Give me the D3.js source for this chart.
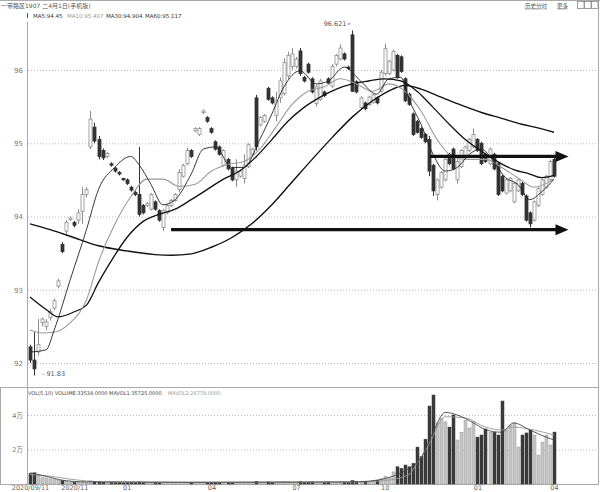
<!DOCTYPE html>
<html><head><meta charset="utf-8">
<script src="https://cdn.jsdelivr.net/npm/d3@7"></script>
<style>body{margin:0;background:#fff}svg{display:block}text{font-family:"DejaVu Sans","Noto Sans CJK SC",sans-serif}</style>
</head><body><svg id="c" width="600" height="492"></svg>
<script>
// ---------- data ----------
const priceTicks = [92, 93, 94, 95, 96];
const volTicks = [2, 4];
const xTickIdx = [0, 11, 24, 45, 66, 88, 111, 130];
const xLabels = ["2020/09/11", "2020/11", "01", "04", "07", "10", "01", "04"];

const opens = [92.22,92.04,92.15,92.55,92.50,92.62,92.75,93.05,93.62,93.80,
93.96,93.92,93.95,94.07,94.30,94.95,95.22,95.05,94.90,94.82,
94.72,94.66,94.60,94.52,94.50,94.40,94.33,94.30,94.15,94.15,
94.10,94.20,94.08,93.85,94.05,94.15,94.22,94.37,94.55,94.72,
94.90,95.17,95.12,95.42,95.35,95.20,95.02,94.95,94.70,94.78,
94.66,94.50,94.55,94.52,94.68,94.85,95.62,95.25,95.30,95.75,
95.62,95.38,95.62,95.68,95.92,96.05,96.05,96.26,95.90,96.08,
95.88,95.54,95.60,95.70,95.88,95.78,96.08,96.15,96.22,96.04,
96.48,95.84,95.49,95.55,95.53,95.56,95.62,95.71,95.95,95.95,
96.00,96.20,96.18,95.88,95.67,95.40,95.30,95.20,95.12,95.05,
94.70,94.30,94.40,94.50,94.85,94.92,94.50,94.68,94.80,94.90,
94.95,95.05,95.00,94.85,94.72,94.85,94.72,94.55,94.32,94.35,
94.20,94.35,94.45,94.28,94.05,93.95,94.15,94.30,94.40,94.50,94.78];
const closes = [92.04,91.92,92.25,92.60,92.56,92.70,92.85,93.12,93.52,93.92,
93.98,93.88,94.05,94.30,94.37,95.33,95.03,94.82,94.80,94.86,
94.70,94.62,94.58,94.50,94.45,94.36,94.30,94.03,94.05,94.18,
94.30,94.10,93.95,94.08,94.15,94.22,94.30,94.60,94.70,94.90,
94.82,95.20,95.20,95.44,95.30,95.15,94.92,94.85,94.90,94.65,
94.50,94.62,94.62,94.70,94.98,94.92,94.95,95.35,95.38,95.60,
95.55,95.58,95.85,96.10,96.20,96.22,96.15,95.95,95.85,95.97,
95.70,95.77,95.85,95.65,95.82,96.05,96.20,96.30,96.15,96.02,
95.71,95.70,95.62,95.47,95.63,95.66,95.55,95.97,96.29,96.12,
96.25,95.90,95.98,95.58,95.53,95.12,95.15,95.08,95.02,94.62,
94.35,94.50,94.60,94.78,94.72,94.65,94.75,94.90,94.95,95.05,
95.12,94.90,94.72,94.75,94.92,94.65,94.30,94.35,94.50,94.52,
94.45,94.50,94.30,93.95,93.90,94.20,94.38,94.50,94.55,94.75,94.55];
const highs = [92.25,92.42,92.60,92.62,92.60,92.74,92.88,93.15,93.65,93.95,
94.00,93.94,94.10,94.40,94.40,95.44,95.28,95.10,94.93,94.88,
94.74,94.68,94.62,94.53,94.52,94.42,94.35,94.95,94.17,94.20,
94.32,94.22,94.10,94.10,94.17,94.24,94.32,94.65,94.72,94.94,
94.92,95.22,95.22,95.46,95.37,95.22,95.04,94.97,94.92,94.80,
94.68,94.78,94.64,94.85,95.00,94.94,95.66,95.37,95.40,95.77,
95.64,95.70,95.90,96.16,96.25,96.30,96.18,96.30,95.92,96.10,
95.90,95.80,95.88,95.72,95.90,96.08,96.22,96.35,96.24,96.06,
96.54,95.86,95.64,95.57,95.65,95.68,95.64,96.00,96.36,96.14,
96.28,96.22,96.20,95.90,95.69,95.42,95.32,95.22,95.14,95.10,
94.72,94.52,94.62,94.80,94.87,94.94,94.82,94.92,94.97,95.07,
95.20,95.07,95.02,94.87,94.94,94.87,94.74,94.57,94.52,94.54,
94.47,94.52,94.47,94.30,94.07,94.22,94.40,94.52,94.57,94.78,94.80];
const lows = [92.00,91.83,92.10,92.50,92.45,92.58,92.72,93.02,93.50,93.76,
93.94,93.85,93.90,93.90,94.26,94.92,95.00,94.78,94.77,94.80,
94.68,94.60,94.56,94.49,94.43,94.34,94.28,94.00,94.03,94.13,
94.08,94.08,93.93,93.80,94.03,94.13,94.20,94.33,94.53,94.70,
94.80,95.15,95.10,95.40,95.28,95.13,94.90,94.83,94.68,94.63,
94.48,94.40,94.53,94.45,94.66,94.83,94.90,95.23,95.28,95.58,
95.53,95.30,95.55,95.65,95.88,96.00,96.02,95.92,95.83,95.95,
95.68,95.50,95.58,95.63,95.80,95.75,96.05,96.13,96.13,96.00,
95.70,95.68,95.47,95.45,95.51,95.54,95.53,95.69,95.92,95.93,
95.98,95.88,95.96,95.56,95.51,95.10,95.13,95.06,95.00,94.55,
94.28,94.22,94.38,94.48,94.70,94.63,94.45,94.66,94.78,94.88,
94.93,94.88,94.70,94.73,94.70,94.63,94.28,94.33,94.30,94.33,
94.18,94.33,94.28,93.93,93.85,93.93,94.13,94.28,94.38,94.48,94.53];
// volume in 万
const volumes = [0.60,0.65,0.50,0.40,0.35,0.30,0.25,0.20,0.20,0.15,
0.12,0.10,0.12,0.15,0.10,0.18,0.15,0.12,0.10,0.08,
0.08,0.07,0.08,0.06,0.07,0.08,0.07,0.12,0.10,0.08,
0.09,0.08,0.07,0.10,0.08,0.07,0.06,0.09,0.08,0.10,
0.08,0.10,0.09,0.10,0.08,0.07,0.08,0.07,0.09,0.08,
0.07,0.09,0.07,0.08,0.10,0.08,0.15,0.09,0.08,0.12,
0.10,0.09,0.12,0.14,0.12,0.10,0.09,0.13,0.10,0.11,
0.12,0.10,0.11,0.09,0.12,0.11,0.10,0.12,0.11,0.10,
0.20,0.15,0.12,0.14,0.15,0.18,0.22,0.30,0.45,0.35,
0.70,1.00,0.90,1.10,1.00,1.20,2.14,1.60,2.60,4.52,
5.16,3.54,3.80,3.60,3.30,4.00,2.55,3.00,3.70,3.25,
3.60,2.72,2.84,3.19,3.00,3.00,2.84,4.81,3.13,3.42,
3.54,2.14,2.84,2.96,3.13,2.84,1.68,2.43,2.84,2.26,3.01];

// moving averages: [candle index, value]
const ma5 = [[0,92.15],[4,92.18],[6,92.45],[10,93.14],[14,93.82],[17,94.37],[21,94.67],[25,94.82],[27,94.71],[30,94.44],[33,94.16],[36,94.23],[40,94.58],[43,94.92],[46,94.95],[50,94.67],[53,94.67],[57,95.05],[60,95.40],[63,95.77],[67,95.99],[71,95.81],[74,95.85],[78,96.04],[82,95.85],[86,95.67],[89,95.88],[92,95.90],[94,95.60],[97,95.26],[100,94.85],[103,94.62],[106,94.67],[109,94.85],[112,94.92],[115,94.75],[118,94.53],[121,94.44],[124,94.23],[127,94.34],[130,94.51]];
const ma10 = [[0,92.45],[3,92.41],[6,92.42],[10,92.55],[14,92.86],[17,93.38],[21,93.89],[25,94.27],[29,94.51],[33,94.51],[37,94.41],[41,94.44],[45,94.62],[49,94.71],[53,94.75],[57,94.92],[61,95.22],[65,95.53],[69,95.71],[73,95.77],[77,95.88],[81,95.81],[85,95.71],[89,95.81],[93,95.71],[97,95.44],[101,95.05],[105,94.81],[109,94.78],[113,94.78],[117,94.67],[121,94.53],[125,94.40],[130,94.51]];
const ma30 = [[0,92.90],[4,92.73],[7,92.63],[11,92.70],[14,92.79],[17,93.10],[20,93.38],[24,93.71],[28,93.93],[32,94.03],[36,94.10],[40,94.23],[44,94.37],[48,94.51],[52,94.62],[56,94.81],[60,95.05],[64,95.30],[68,95.49],[72,95.63],[76,95.74],[80,95.81],[84,95.85],[88,95.88],[92,95.85],[96,95.71],[100,95.49],[104,95.26],[108,95.05],[112,94.89],[116,94.75],[120,94.64],[124,94.58],[127,94.53],[130,94.56]];
const ma60 = [[0,93.90],[5,93.82],[10,93.73],[17,93.60],[24,93.53],[31,93.48],[35,93.47],[40,93.49],[45,93.58],[50,93.71],[55,93.90],[60,94.16],[65,94.47],[70,94.78],[75,95.08],[80,95.36],[85,95.58],[90,95.74],[93,95.79],[97,95.74],[102,95.63],[107,95.52],[112,95.42],[117,95.34],[122,95.26],[126,95.21],[130,95.15]];
const mavol1 = [[0,0.65],[4,0.45],[8,0.22],[14,0.12],[40,0.10],[80,0.12],[86,0.22],[90,0.45],[94,0.90],[97,1.50],[100,3.00],[103,4.15],[106,4.00],[110,3.55],[113,3.15],[117,3.00],[120,3.54],[124,3.13],[128,2.72],[130,2.55]];
const mavol2 = [[0,0.55],[5,0.45],[10,0.28],[18,0.13],[40,0.10],[80,0.11],[88,0.20],[94,0.55],[96,1.20],[99,2.30],[103,3.90],[108,3.83],[113,3.30],[117,3.13],[120,3.30],[125,3.13],[130,2.84]];

// annotation arrows: start index, end index, price level
const arrowStart = [35, 99.3];
const arrowEnd = [133.6, 133.6];
const arrowPrice = [93.82, 94.82];

// ---------- drawing ----------
const svg = d3.select('#c');
const x = d3.scaleLinear().domain([0, 130]).range([30, 554]);
const y = d3.scaleLinear().domain([92, 96]).range([363, 70]);
const yv = d3.scaleLinear().domain([0, 4]).range([484, 415]);

// frame lines
const frame = [[0,0.5,600,0.5],[27.5,22,27.5,485],[598.5,0,598.5,485],[0,387.5,599,387.5],[0.5,387,0.5,485],[0,484.5,599,484.5]];
svg.append('g').selectAll('line').data(frame).join('line')
  .attr('x1',d=>d[0]).attr('y1',d=>d[1]).attr('x2',d=>d[2]).attr('y2',d=>d[3])
  .attr('stroke','#aaa').attr('stroke-width',1);

// price axis + grid
const ga = svg.append('g').attr('transform','translate(28,0)')
  .call(d3.axisLeft(y).tickValues(priceTicks).tickSize(-570).tickPadding(5).tickFormat(d=>d));
ga.select('.domain').remove();
ga.selectAll('.tick line').attr('stroke','#bbb').attr('stroke-dasharray','1,2');
ga.selectAll('.tick text').attr('fill','#777').style('font-size','7px');

// volume axis + grid
const gv = svg.append('g').attr('transform','translate(28,0)')
  .call(d3.axisLeft(yv).tickValues(volTicks).tickSize(-570).tickPadding(5).tickFormat(d=>d+'万'));
gv.select('.domain').remove();
gv.selectAll('.tick line').attr('stroke','#bbb').attr('stroke-dasharray','1,2');
gv.selectAll('.tick text').attr('fill','#777').style('font-size','6.5px');

// x axis
const gx = svg.append('g').attr('transform','translate(0,484)')
  .call(d3.axisBottom(x).tickValues(xTickIdx).tickSize(0).tickPadding(1.5).tickFormat((d,i)=>xLabels[i]));
gx.select('.domain').remove();
gx.selectAll('.tick text').attr('fill','#666').style('font-size','6.5px');

// candles
const idx = d3.range(opens.length);
const cg = svg.append('g');
idx.forEach(i => {
  const o = opens[i], c = closes[i], up = c >= o;
  const col = up ? '#8c8c8c' : '#333';
  const cx = Math.round(x(i)) + 0.5;
  cg.append('line').attr('x1',cx).attr('x2',cx).attr('y1',y(highs[i])).attr('y2',y(lows[i]))
    .attr('stroke',col).attr('stroke-width',1);
  const top = y(Math.max(o,c)), h = Math.max(1, Math.abs(y(o)-y(c)));
  cg.append('rect').attr('x',cx-1.5).attr('y',top).attr('width',3).attr('height',h)
    .attr('fill', up ? '#fff' : '#333').attr('stroke',col).attr('stroke-width',0.8);
});

// MA lines
const ln = d3.line().x(d=>x(d[0])).y(d=>y(d[1])).curve(d3.curveMonotoneX);
const maStyles = [[ma60,'#111',1.4],[ma30,'#111',1.3],[ma10,'#9a9a9a',1.1],[ma5,'#222',0.9]];
maStyles.forEach(([d,c,w]) => svg.append('path').attr('d',ln(d)).attr('fill','none').attr('stroke',c).attr('stroke-width',w));

// volume bars
const vg = svg.append('g');
idx.forEach(i => {
  const up = closes[i] >= opens[i];
  const cx = Math.round(x(i)) + 0.5;
  const top = yv(volumes[i]);
  vg.append('rect').attr('x',cx-1.5).attr('y',top).attr('width',3).attr('height',Math.max(0.6,484-top))
    .attr('fill', up ? '#c6c6c6' : '#3a3a3a').attr('stroke', up ? '#9a9a9a' : '#3a3a3a').attr('stroke-width',0.5);
});
const lv = d3.line().x(d=>x(d[0])).y(d=>yv(d[1])).curve(d3.curveMonotoneX);
svg.append('path').attr('d',lv(mavol2)).attr('fill','none').attr('stroke','#999').attr('stroke-width',0.9);
svg.append('path').attr('d',lv(mavol1)).attr('fill','none').attr('stroke','#444').attr('stroke-width',0.9);

// arrows
arrowPrice.forEach((p,k) => {
  const y0 = y(p), x0 = x(arrowStart[k]), x1 = x(arrowEnd[k]);
  svg.append('line').attr('x1',x0).attr('x2',x1-10).attr('y1',y0).attr('y2',y0)
    .attr('stroke','#111').attr('stroke-width',3.2);
  svg.append('path').attr('d',`M${x1},${y0} L${x1-13},${y0-5.5} L${x1-13},${y0+5.5} Z`).attr('fill','#111');
});

// labels of extremes
const hiIdx = 80, loIdx = 1;
svg.append('text').attr('x',x(hiIdx)-6).attr('y',y(highs[hiIdx])-4).attr('text-anchor','end')
  .attr('fill','#555').style('font-size','6.5px').text('96.621');
svg.append('line').attr('x1',x(hiIdx)-5).attr('x2',x(hiIdx)-2).attr('y1',y(highs[hiIdx])-6.5).attr('y2',y(highs[hiIdx])-6.5).attr('stroke','#777');
svg.append('text').attr('x',x(loIdx)+8).attr('y',y(lows[loIdx])+1).attr('fill','#555').style('font-size','6.5px').text('- 91.83');

// header texts
function t(str, xx, yy, col, fs){
  return svg.append('text').attr('x',xx).attr('y',yy).attr('fill',col).style('font-size',fs+'px').text(str);
}
t('一带路区1907 二4月1日(手机版)', 1, 8, '#555', 6);
svg.append('line').attr('x1',27.5).attr('x2',27.5).attr('y1',13).attr('y2',18).attr('stroke','#555');
t('MA5:94.45', 33, 18, '#333', 5.5);
t('MA10:95.407', 67, 18, '#999', 5.5);
t('MA30:94.904', 106, 18, '#333', 5.5);
t('MA60:95.117', 145, 18, '#333', 5.5);
t('历史分时', 525, 7.5, '#555', 5.5);
svg.append('line').attr('x1',525).attr('x2',547).attr('y1',9).attr('y2',9).attr('stroke','#888').attr('stroke-width',0.6);
t('更多', 557, 7.5, '#555', 5.5);
svg.append('line').attr('x1',557).attr('x2',568).attr('y1',9).attr('y2',9).attr('stroke','#888').attr('stroke-width',0.6);
[577,584,591].forEach(bx => svg.append('rect').attr('x',bx+0.5).attr('y',1.5).attr('width',6.5).attr('height',7).attr('fill','#fff').attr('stroke','#777').attr('stroke-width',0.7));
t('VOL(5,10) VOLUME:33534.0000 MAVOL1:35725.0000', 28, 395, '#444', 5);
t('MAVOL2:26779.0000', 168, 395, '#999', 5);
</script></body></html>
